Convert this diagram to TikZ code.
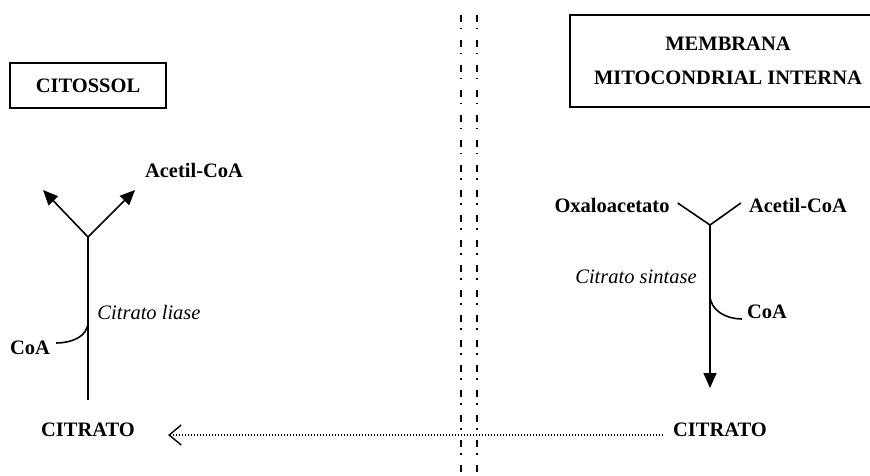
\documentclass[tikz,border=0pt]{standalone}
\usepackage{fontspec}
\setmainfont{Liberation Serif}
\usetikzlibrary{
    arrows.meta,
    positioning,
    calc
}
\tikzset {
    every node/.style = {inner sep = 0pt, font = \fontsize{20.5}{34}\selectfont},
    metab/.style = {font = \fontsize{20.5}{34}\selectfont\bfseries},
    enzyme/.style = {font = \fontsize{20.5}{34}\selectfont\itshape},
    label box/.style = {draw, line width = 1.6, align = center,
        font = \fontsize{20.5}{34}\selectfont\bfseries},
    path line/.style = {line width = 1.6},
    membrane/.style = {line width = 1.8, dash pattern = on 7 off 6 on 1.5 off 10.5},
    transport/.style = {line width = 1.1, dash pattern = on 1 off 2,
        arrows = {-{Straight Barb[length = 12pt, width = 20pt, line width = 1.4pt]}}},
    branch arrow/.style = {path line,
        arrows = {-{Triangle[length = 15pt, width = 13pt]}}}
}
\begin{document}
\begin{tikzpicture}[x = 1pt, y = -1pt]
    \useasboundingbox (0, 0) rectangle (870, 476);
    \clip (0, 0) rectangle (870, 476);
    % compartments
    \node (cyt) [label box, minimum width = 156, minimum height = 45] at (88, 85.5) {CITOSSOL};
    \node (mit) [label box, minimum width = 316, minimum height = 92] at (728, 61) {MEMBRANA\\MITOCONDRIAL INTERNA};
    \coordinate (m1t) at (461, 15);
    \coordinate (m1b) at (461, 476);
    \coordinate (m2t) at (477, 15);
    \coordinate (m2b) at (477, 476);
    \draw [membrane] (m1t) -- (m1b);
    \draw [membrane] (m2t) -- (m2b);
    % mitochondria side
    \node (oxa) [metab] at (612, 205) {Oxaloacetato};
    \node (acR) [metab] at (798, 205) {Acetil-CoA};
    \node (sint) [enzyme] at (636, 277) {Citrato sintase};
    \node (coaR) [metab] at (767, 312) {CoA};
    \node (citR) [metab] at (720, 430) {CITRATO};
    \coordinate (jR) at (710, 225);
    \coordinate (endR) at (710, 388);
    \coordinate (bR) at (710, 295);
    \draw [path line] ($(oxa.east) + (8, -2)$) -- (jR) -- ($(acR.west) + (-8, -2)$);
    \draw [branch arrow] (jR) -- (endR);
    \draw [path line] (bR) to[out = -90, in = 180] ($(coaR.west) + (-5, 7)$);
    % cytosol side
    \node (citL) [metab] at (88, 430) {CITRATO};
    \node (acL) [metab] at (194, 170) {Acetil-CoA};
    \node (lia) [enzyme] at (149, 312) {Citrato liase};
    \node (coaL) [metab] at (30, 348) {CoA};
    \coordinate (jL) at (88, 237);
    \coordinate (startL) at (88, 400);
    \coordinate (bL) at (88, 322);
    \coordinate (tipA) at (43, 190);
    \coordinate (tipB) at (135, 190);
    \draw [path line] (startL) -- (jL);
    \draw [branch arrow] (jL) -- (tipA);
    \draw [branch arrow] (jL) -- (tipB);
    \draw [path line] (bL) to[out = -90, in = 0] ($(coaL.east) + (6, -5)$);
    % transport
    \draw [transport] ($(citR.west) + (-10, 5)$) -- ($(citL.east) + (33, 5)$);
\end{tikzpicture}
\end{document}
